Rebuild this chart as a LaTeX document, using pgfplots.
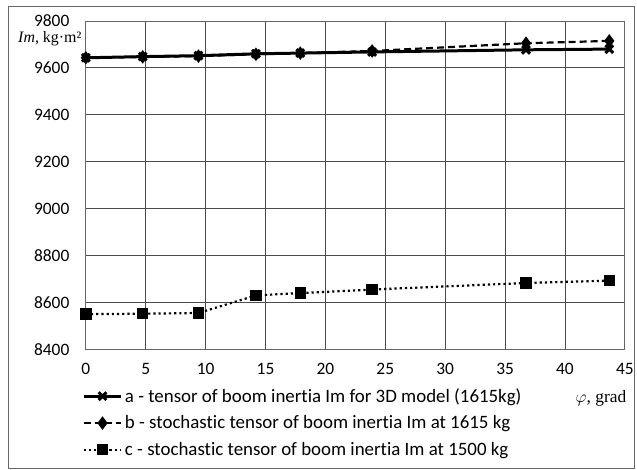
\documentclass[border=0pt]{standalone}
\usepackage{fontspec}
\setmainfont{Carlito}[Ligatures={NoCommon}]
\newfontfamily\serif{Liberation Serif}
\usepackage{pgfplots}
\pgfplotsset{compat=1.18}

\begin{document}
\begin{tikzpicture}
\begin{axis}[
    scale only axis,
    width=540bp, height=329bp,
    xmin=0, xmax=45, ymin=8400, ymax=9800,
    xtick={0,5,...,45},
    ytick={8400,8600,...,9800},
    grid=major,
    major grid style={draw=black!70, line width=0.8bp},
    axis line style={draw=black!60, line width=0.8bp},
    tick style={draw=none},
    /pgf/number format/assume math mode=true,
    /pgf/number format/1000 sep={},
    ticklabel style={font=\fontsize{17.5}{20}\selectfont},
    xticklabel style={yshift=-10bp},
    yticklabel style={xshift=-13bp},
    xlabel={{\serif$\varphi$, grad}},
    xlabel style={at={(rel axis cs:1,0)}, anchor=north east, yshift=-38bp, xshift=5bp,
        font=\fontsize{17.5}{20}\selectfont},
    ylabel={{\serif\textit{Im}, kg·m²}},
    ylabel style={at={(rel axis cs:0,1)}, anchor=north east, rotate=-90, yshift=-7bp, xshift=-1bp,
        font=\fontsize{16}{19}\selectfont},
    legend style={at={(rel axis cs:0,0)}, anchor=north west, xshift=-4bp, yshift=-37bp,
        draw=none, fill=none, font=\fontsize{19}{22}\selectfont,
        row sep=8bp, inner sep=0pt,
        /tikz/every even column/.append style={column sep=3bp}},
    legend cell align=left,
    legend image code/.code={
        \draw[mark repeat=2, mark phase=2, #1] plot coordinates {(0bp,0bp) (19bp,0bp) (38bp,0bp)};
    },
    clip=false,
]
\coordinate (sw) at (rel axis cs:0,0);
\coordinate (ne) at (rel axis cs:1,1);

% a - 3D model
\addplot[black, line width=3bp, mark=x, mark size=5.5bp,
    mark options={line width=3bp, solid}] coordinates {
    (0,9643) (4.75,9648) (9.4,9652) (14.2,9660) (17.9,9663) (23.9,9668) (36.75,9677) (43.7,9680)
};
\addlegendentry{a - tensor of boom inertia Im for 3D model (1615kg)}

% b - stochastic, 1615 kg
\addplot[black, line width=2.2bp, dash pattern=on 7bp off 4bp, mark=diamond*, mark size=5bp,
    mark options={solid}] coordinates {
    (0,9643) (4.75,9647) (9.4,9650) (14.2,9658) (17.9,9663) (23.9,9672) (36.75,9705) (43.7,9715)
};
\addlegendentry{b - stochastic tensor of boom inertia Im at 1615 kg}

% c - stochastic, 1500 kg
\addplot[black, line width=2.2bp, dash pattern=on 2.2bp off 3bp, mark=square*, mark size=4.6bp,
    mark options={solid}] coordinates {
    (0,8550) (4.75,8552) (9.4,8555) (14.2,8630) (17.9,8640) (23.9,8655) (36.75,8683) (43.7,8693)
};
\addlegendentry{c - stochastic tensor of boom inertia Im at 1500 kg}
\end{axis}
\draw[black!60, line width=0.8bp] ([shift={(-78bp,-119bp)}]sw) rectangle ([shift={(10bp,15bp)}]ne);
\path ([shift={(-86bp,-120bp)}]sw) rectangle ([shift={(11bp,21bp)}]ne);
\end{tikzpicture}
\end{document}
